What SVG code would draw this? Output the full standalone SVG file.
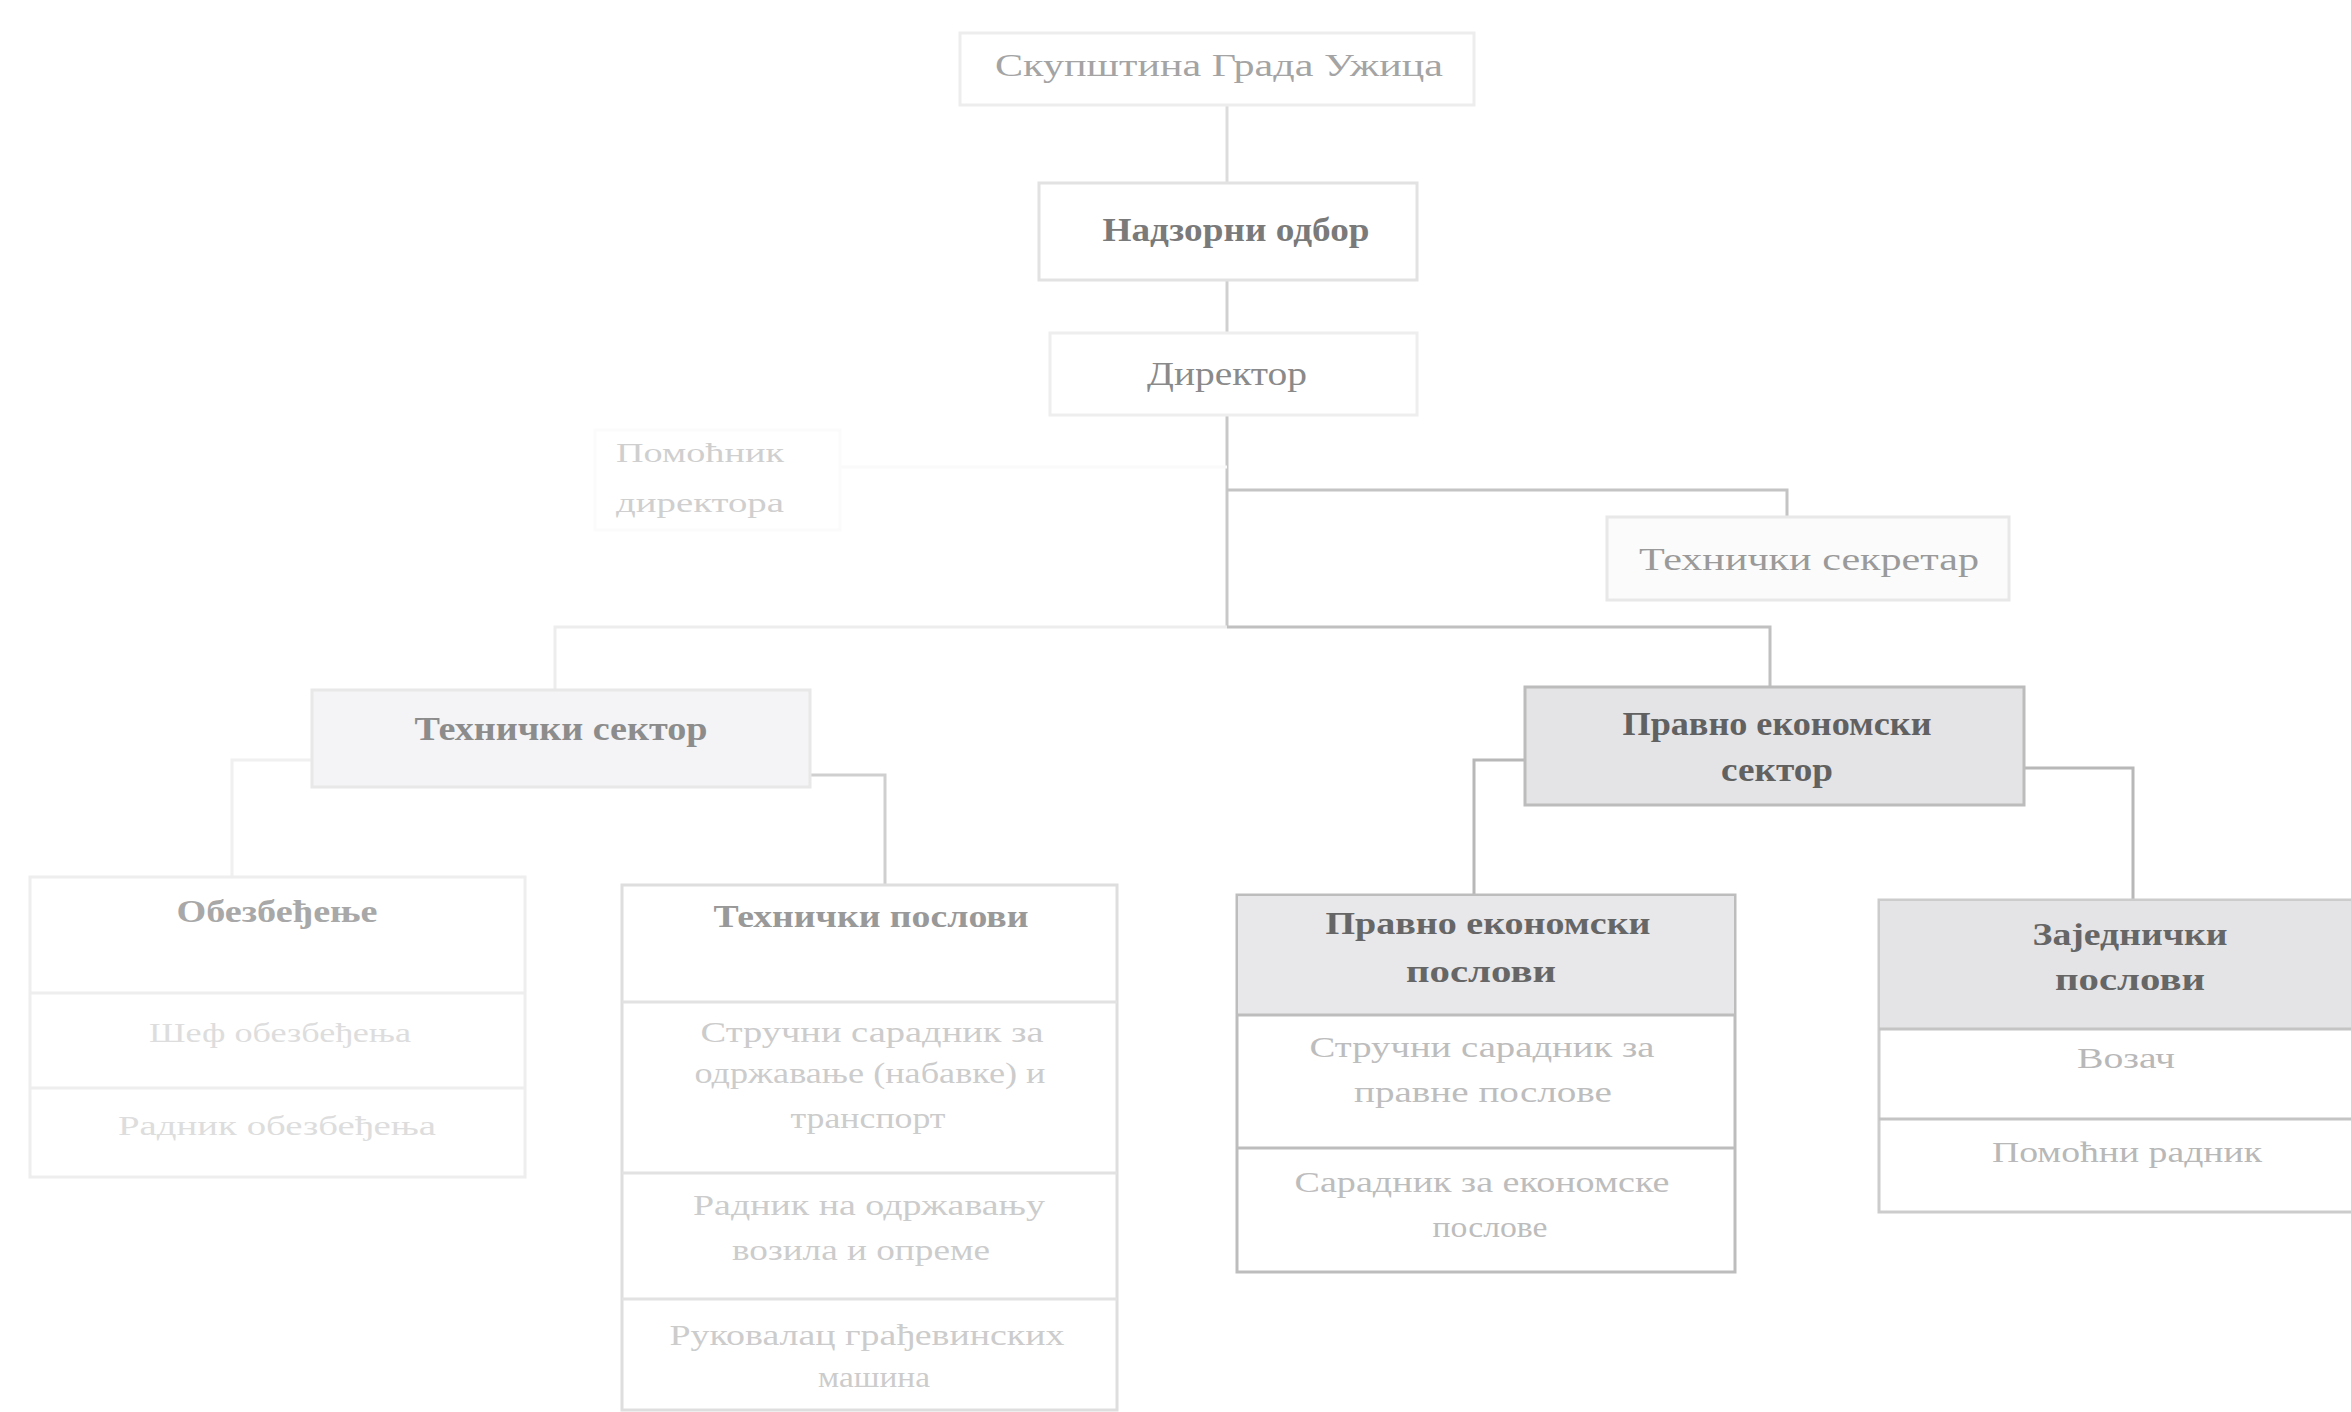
<svg xmlns="http://www.w3.org/2000/svg" width="2351" height="1412" viewBox="0 0 2351 1412">
<style>
text{font-family:"Liberation Serif","DejaVu Serif",serif;text-anchor:middle}
.b{font-weight:bold}
.box{stroke-width:3}
.line{fill:none;stroke-width:3}
</style>
<rect width="2351" height="1412" fill="#ffffff"/>
<g id="connectors">
<path class="line" stroke="#dcdcdc" d="M1227 105V183"/>
<path class="line" stroke="#d0d0d0" d="M1227 280V333"/>
<path class="line" stroke="#c8c8c8" d="M1227 415V627"/>
<path class="line" stroke="#fafafa" d="M840 467H1227"/>
<path class="line" stroke="#c4c4c4" d="M1227 490H1787V517"/>
<path class="line" stroke="#ededed" d="M555 690V627H1227"/>
<path class="line" stroke="#c0c0c0" d="M1227 627H1770V687"/>
<path class="line" stroke="#f0f0f0" d="M312 760H232V877"/>
<path class="line" stroke="#cfcfcf" d="M810 775H885V885"/>
<path class="line" stroke="#b8b8b8" d="M1525 760H1474V895"/>
<path class="line" stroke="#b8b8b8" d="M2024 768H2133V900"/>
</g>
<g id="skupstina">
<rect class="box" x="960" y="33" width="514" height="72" fill="#ffffff" stroke="#ededed"/>
<text x="1219" y="76" font-size="32" fill="#a4a4a4" textLength="448" lengthAdjust="spacingAndGlyphs">Скупштина Града Ужица</text>
</g>
<g id="nadzorni">
<rect class="box" x="1039" y="183" width="378" height="97" fill="#ffffff" stroke="#e2e2e2"/>
<text class="b" x="1236" y="241" font-size="33" fill="#7a7a7a" textLength="267" lengthAdjust="spacingAndGlyphs">Надзорни одбор</text>
</g>
<g id="direktor">
<rect class="box" x="1050" y="333" width="367" height="82" fill="#ffffff" stroke="#eeeeee"/>
<text x="1227" y="385" font-size="33" fill="#8a8a8a" textLength="160" lengthAdjust="spacingAndGlyphs">Директор</text>
</g>
<g id="pomocnik">
<rect class="box" x="595" y="430" width="245" height="100" fill="#ffffff" stroke="#fbfbfb"/>
<text x="700" y="462" font-size="28" fill="#cfcfcf" textLength="168" lengthAdjust="spacingAndGlyphs">Помоћник</text>
<text x="700" y="512" font-size="28" fill="#cfcfcf" textLength="168" lengthAdjust="spacingAndGlyphs">директора</text>
</g>
<g id="tehnicki-sekretar">
<rect class="box" x="1607" y="517" width="402" height="83" fill="#fbfbfb" stroke="#e8e8e8"/>
<text x="1809" y="570" font-size="32" fill="#9a9a9a" textLength="340" lengthAdjust="spacingAndGlyphs">Технички секретар</text>
</g>
<g id="tehnicki-sektor">
<rect class="box" x="312" y="690" width="498" height="97" fill="#f4f4f6" stroke="#e8e8e8"/>
<text class="b" x="561" y="740" font-size="33" fill="#8c8c8c" textLength="293" lengthAdjust="spacingAndGlyphs">Технички сектор</text>
</g>
<g id="pravno-sektor">
<rect class="box" x="1525" y="687" width="499" height="118" fill="#e4e4e6" stroke="#bcbcbc"/>
<text class="b" x="1777" y="735" font-size="33" fill="#616161" textLength="309" lengthAdjust="spacingAndGlyphs">Правно економски</text>
<text class="b" x="1777" y="781" font-size="33" fill="#616161" textLength="112" lengthAdjust="spacingAndGlyphs">сектор</text>
</g>
<g id="obezbedjenje">
<rect class="box" x="30" y="877" width="495" height="300" fill="#ffffff" stroke="#eeeeee"/>
<path class="line" stroke="#eeeeee" d="M30 993H525M30 1088H525"/>
<text class="b" x="277" y="922" font-size="31" fill="#a8a8a8" textLength="201" lengthAdjust="spacingAndGlyphs">Обезбеђење</text>
<text x="280" y="1042" font-size="28" fill="#dddddd" textLength="262" lengthAdjust="spacingAndGlyphs">Шеф обезбеђења</text>
<text x="277" y="1135" font-size="28" fill="#dddddd" textLength="318" lengthAdjust="spacingAndGlyphs">Радник обезбеђења</text>
</g>
<g id="tehnicki-poslovi">
<rect class="box" x="622" y="885" width="495" height="525" fill="#ffffff" stroke="#dedede"/>
<path class="line" stroke="#e2e2e2" d="M622 1002H1117M622 1173H1117M622 1299H1117"/>
<text class="b" x="871" y="927" font-size="31" fill="#999999" textLength="315" lengthAdjust="spacingAndGlyphs">Технички послови</text>
<text x="872" y="1042" font-size="29" fill="#cccccc" textLength="343" lengthAdjust="spacingAndGlyphs">Стручни сарадник за</text>
<text x="870" y="1083" font-size="29" fill="#cccccc" textLength="351" lengthAdjust="spacingAndGlyphs">одржавање (набавке) и</text>
<text x="868" y="1128" font-size="29" fill="#cccccc" textLength="155" lengthAdjust="spacingAndGlyphs">транспорт</text>
<text x="869" y="1215" font-size="29" fill="#cccccc" textLength="352" lengthAdjust="spacingAndGlyphs">Радник на одржавању</text>
<text x="861" y="1260" font-size="29" fill="#cccccc" textLength="258" lengthAdjust="spacingAndGlyphs">возила и опреме</text>
<text x="867" y="1345" font-size="29" fill="#cccccc" textLength="395" lengthAdjust="spacingAndGlyphs">Руковалац грађевинских</text>
<text x="874" y="1387" font-size="29" fill="#cccccc" textLength="112" lengthAdjust="spacingAndGlyphs">машина</text>
</g>
<g id="pravno-poslovi">
<rect class="box" x="1237" y="895" width="498" height="377" fill="#ffffff" stroke="#bdbdbd"/>
<rect x="1238" y="896" width="496" height="119" fill="#e8e8ea"/>
<path class="line" stroke="#bdbdbd" d="M1237 1015H1735M1237 1148H1735"/>
<text class="b" x="1488" y="934" font-size="31" fill="#666666" textLength="325" lengthAdjust="spacingAndGlyphs">Правно економски</text>
<text class="b" x="1481" y="982" font-size="31" fill="#666666" textLength="150" lengthAdjust="spacingAndGlyphs">послови</text>
<text x="1482" y="1057" font-size="29" fill="#bdbdbd" textLength="345" lengthAdjust="spacingAndGlyphs">Стручни сарадник за</text>
<text x="1483" y="1102" font-size="29" fill="#bdbdbd" textLength="258" lengthAdjust="spacingAndGlyphs">правне послове</text>
<text x="1482" y="1192" font-size="29" fill="#bdbdbd" textLength="375" lengthAdjust="spacingAndGlyphs">Сарадник за економске</text>
<text x="1490" y="1237" font-size="29" fill="#bdbdbd" textLength="115" lengthAdjust="spacingAndGlyphs">послове</text>
</g>
<g id="zajednicki-poslovi">
<rect class="box" x="1879" y="900" width="480" height="312" fill="#ffffff" stroke="#cccccc"/>
<rect x="1880" y="901" width="471" height="128" fill="#e4e4e6"/>
<path class="line" stroke="#c4c4c4" d="M1879 1029H2351M1879 1119H2351"/>
<text class="b" x="2130" y="945" font-size="31" fill="#666666" textLength="195" lengthAdjust="spacingAndGlyphs">Заједнички</text>
<text class="b" x="2130" y="990" font-size="31" fill="#666666" textLength="150" lengthAdjust="spacingAndGlyphs">послови</text>
<text x="2126" y="1068" font-size="29" fill="#b8b8b8" textLength="98" lengthAdjust="spacingAndGlyphs">Возач</text>
<text x="2127" y="1162" font-size="29" fill="#b8b8b8" textLength="270" lengthAdjust="spacingAndGlyphs">Помоћни радник</text>
</g>
</svg>
